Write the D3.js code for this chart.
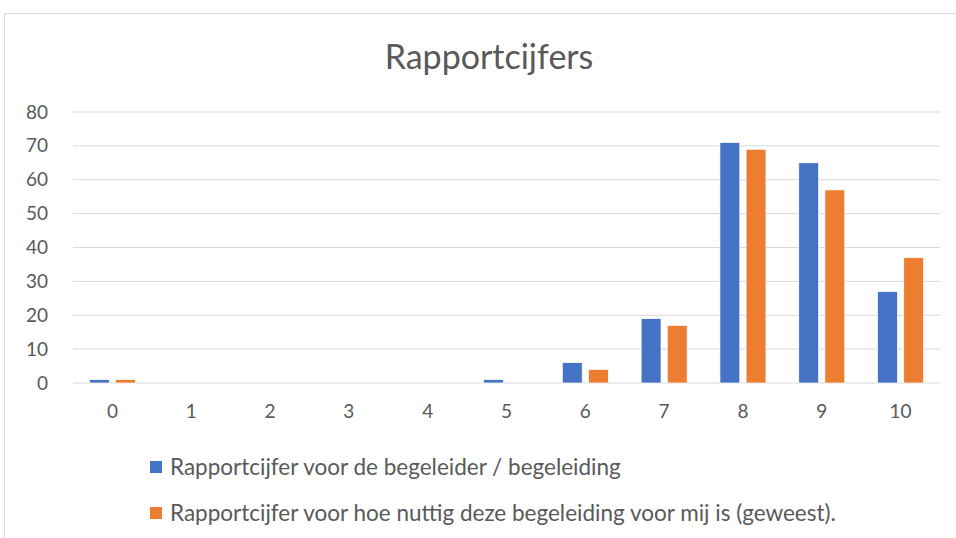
<!DOCTYPE html>
<html lang="nl">
<head>
<meta charset="UTF-8" />
<title>Rapportcijfers</title>
<script src="https://d3js.org/d3.v7.min.js"></script>
<style>
  body { margin: 0; background: #fff; }
  svg text { font-family: Lato, "Open Sans", sans-serif; fill: #595959; }
</style>
</head>
<body>
<svg id="chart" width="956" height="538"></svg>
<script>
  const categories = ["0", "1", "2", "3", "4", "5", "6", "7", "8", "9", "10"];
  const seriesNames = [
    "Rapportcijfer voor de begeleider / begeleiding",
    "Rapportcijfer voor hoe nuttig deze begeleiding voor mij is (geweest)."
  ];
  const begeleider = [1, 0, 0, 0, 0, 1, 6, 19, 71, 65, 27];
  const nuttig = [1, 0, 0, 0, 0, 0, 4, 17, 69, 57, 37];
  const yTicks = [0, 10, 20, 30, 40, 50, 60, 70, 80];
  const colors = ["#4472c4", "#ed7d31"];

  const svg = d3.select("#chart");
  const margin = { top: 112, right: 16, bottom: 155, left: 73 };
  const width = 956 - margin.left - margin.right;
  const height = 538 - margin.top - margin.bottom;

  // chart area border
  svg.append("rect")
    .attr("x", 4.5).attr("y", 13.5)
    .attr("width", 960).attr("height", 540)
    .attr("fill", "none").attr("stroke", "#d9d9d9");

  svg.append("text")
    .attr("x", 489).attr("y", 57)
    .attr("dy", "0.35em")
    .attr("text-anchor", "middle")
    .style("font-size", "34px")
    .text("Rapportcijfers");

  const g = svg.append("g").attr("transform", `translate(${margin.left},${margin.top})`);

  const x = d3.scaleBand().domain(categories).range([0, width]);
  const x1 = d3.scaleBand().domain([0, 1]).range([x.bandwidth() / 2 - 23, x.bandwidth() / 2 + 23]).paddingInner(0.24);
  const y = d3.scaleLinear().domain([0, 80]).range([height, 0]);

  g.selectAll(".grid").data(yTicks).join("line")
    .attr("x1", 0).attr("x2", width)
    .attr("y1", d => y(d)).attr("y2", d => y(d))
    .attr("stroke", "#d9d9d9").attr("stroke-width", 1);

  const yAxis = g.append("g").call(d3.axisLeft(y).tickValues(yTicks).tickSize(0).tickPadding(25));
  yAxis.select(".domain").remove();
  yAxis.selectAll("text").style("font-size", "19px").attr("fill", "#595959");

  const xAxis = g.append("g").attr("transform", `translate(0,${height})`)
    .call(d3.axisBottom(x).tickSize(0).tickPadding(22));
  xAxis.select(".domain").remove();
  xAxis.selectAll("text").style("font-size", "19px").attr("fill", "#595959");

  [begeleider, nuttig].forEach((vals, s) => {
    g.append("g").selectAll("rect").data(vals).join("rect")
      .attr("x", (d, i) => x(categories[i]) + x1(s))
      .attr("y", d => y(d))
      .attr("width", x1.bandwidth())
      .attr("height", d => height - y(d))
      .attr("fill", colors[s])
      .attr("stroke", "#fff").attr("stroke-width", 0.7);
  });

  const legend = svg.append("g");
  seriesNames.forEach((name, s) => {
    const ly = 467 + s * 46;
    legend.append("rect")
      .attr("x", 150).attr("y", ly - 6)
      .attr("width", 12).attr("height", 12)
      .attr("fill", colors[s]);
    legend.append("text")
      .attr("x", 170).attr("y", ly)
      .attr("dy", "0.35em")
      .style("font-size", "22.5px")
      .text(name);
  });
</script>
</body>
</html>
